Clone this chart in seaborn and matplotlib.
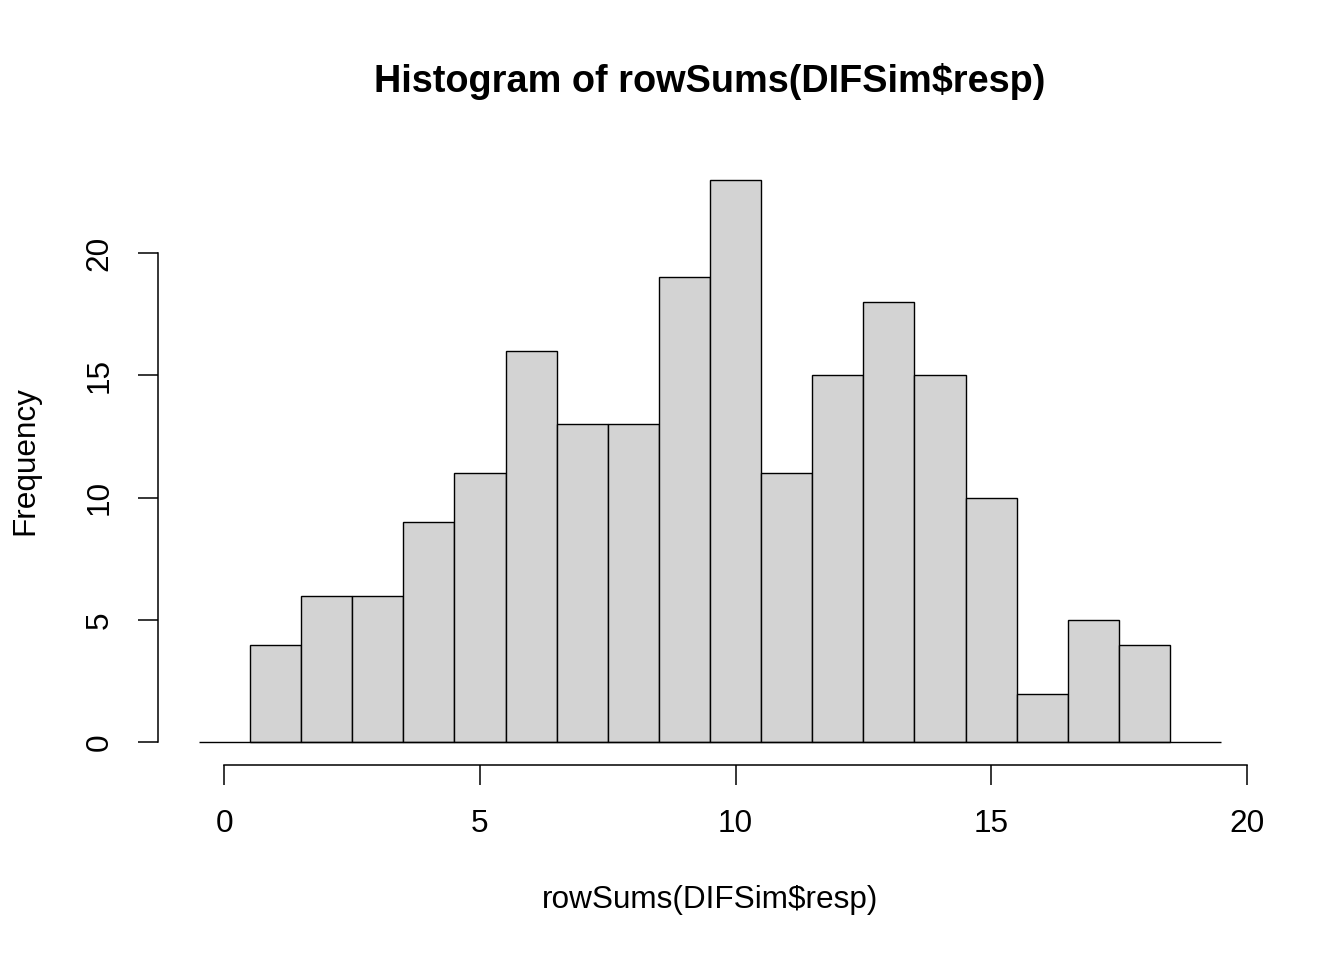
import numpy as np
import matplotlib
matplotlib.use("Agg")
import matplotlib.pyplot as plt
import seaborn as sns

# bin counts (bins of width 1, centred on 1..18)
bin_centers = [1, 2, 3, 4, 5, 6, 7, 8, 9, 10, 11, 12, 13, 14, 15, 16, 17, 18]
counts = [4, 6, 6, 9, 11, 16, 13, 13, 19, 23, 11, 15, 18, 15, 10, 2, 5, 4]
bin_edges = [b - 0.5 for b in bin_centers] + [bin_centers[-1] + 0.5]
x_ticks = [0, 5, 10, 15, 20]
y_ticks = [0, 5, 10, 15, 20]

sns.set_theme(style="white")
plt.rcParams["font.family"] = ["Liberation Sans", "DejaVu Sans"]
plt.rcParams["text.color"] = "black"
plt.rcParams["xtick.color"] = "black"
plt.rcParams["ytick.color"] = "black"
plt.rcParams["axes.labelcolor"] = "black"

W, H = 1344, 960
fig = plt.figure(figsize=(W / 100, H / 100), dpi=100)
# plot region in pixels: x 158..1262, y 157..765
ax = fig.add_axes([158 / W, (H - 765) / H, (1262 - 158) / W, (765 - 157) / H])

sns.histplot(x=bin_centers, weights=counts, bins=bin_edges, ax=ax,
             color="#d3d3d3", edgecolor="black", linewidth=1.0, alpha=1.0)

# base line under the bars
ax.hlines(0, -0.5, 19.5, color="black", linewidth=1.0)

ax.set_xlim(-1.3, 20.3)
ax.set_ylim(-0.92, 23.92)
ax.set_xticks(x_ticks)
ax.set_yticks(y_ticks)
ax.set_xticklabels([str(t) for t in x_ticks])
ax.set_yticklabels([str(t) for t in y_ticks], rotation=90, va="center")
ax.set_xlabel("")
ax.set_ylabel("")

for s in ["top", "right"]:
    ax.spines[s].set_visible(False)
for s in ["left", "bottom"]:
    ax.spines[s].set_color("black")
    ax.spines[s].set_linewidth(1.1)
ax.spines["left"].set_bounds(0, 20)
ax.spines["bottom"].set_bounds(0, 20)

ax.tick_params(axis="both", which="major", length=14.4, width=1.1, color="black",
               labelcolor="black", labelsize=22.7, pad=17, direction="out",
               bottom=True, left=True)
ax.grid(False)

fig.text(710 / W, 1 - 81 / H, "Histogram of rowSums(DIFSim$resp)",
         ha="center", va="center", fontsize=27.3, fontweight="bold", color="black")
fig.text(710 / W, 1 - 900 / H, "rowSums(DIFSim$resp)",
         ha="center", va="center", fontsize=22.7, color="black")
fig.text(25 / W, 1 - 461 / H, "Frequency", ha="center", va="center",
         rotation=90, fontsize=22.7, color="black")

fig.savefig("out.png", dpi=100, facecolor="white")
